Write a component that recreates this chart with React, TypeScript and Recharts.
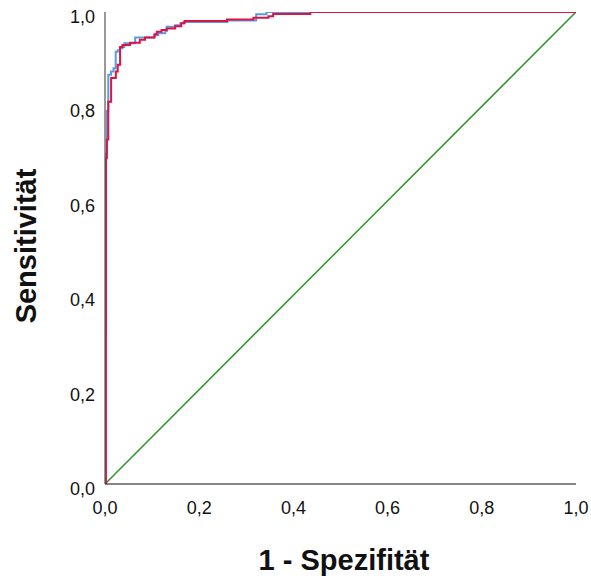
import { CartesianGrid, Line, LineChart, XAxis, YAxis } from "recharts";

// ROC curves (1 - specificity, sensitivity)
const rocBlue = [
  { x: 0, y: 0 },
  { x: 0, y: 0.32 },
  { x: 0.002, y: 0.7 },
  { x: 0.004, y: 0.79 },
  { x: 0.007, y: 0.867 },
  { x: 0.0128, y: 0.874 },
  { x: 0.018, y: 0.881 },
  { x: 0.0227, y: 0.916 },
  { x: 0.027, y: 0.919 },
  { x: 0.032, y: 0.923 },
  { x: 0.037, y: 0.926 },
  { x: 0.041, y: 0.934 },
  { x: 0.064, y: 0.946 },
  { x: 0.105, y: 0.951 },
  { x: 0.113, y: 0.955 },
  { x: 0.128, y: 0.96 },
  { x: 0.131, y: 0.969 },
  { x: 0.149, y: 0.972 },
  { x: 0.16, y: 0.976 },
  { x: 0.167, y: 0.979 },
  { x: 0.26, y: 0.982 },
  { x: 0.321, y: 0.995 },
  { x: 0.343, y: 1 },
  { x: 1, y: 1 },
];

const rocRed = [
  { x: 0, y: 0 },
  { x: 0.002, y: 0.69 },
  { x: 0.004, y: 0.73 },
  { x: 0.007, y: 0.81 },
  { x: 0.013, y: 0.86 },
  { x: 0.023, y: 0.874 },
  { x: 0.027, y: 0.888 },
  { x: 0.032, y: 0.926 },
  { x: 0.037, y: 0.93 },
  { x: 0.053, y: 0.935 },
  { x: 0.074, y: 0.941 },
  { x: 0.085, y: 0.946 },
  { x: 0.105, y: 0.953 },
  { x: 0.11, y: 0.958 },
  { x: 0.12, y: 0.962 },
  { x: 0.131, y: 0.965 },
  { x: 0.149, y: 0.97 },
  { x: 0.162, y: 0.976 },
  { x: 0.169, y: 0.981 },
  { x: 0.259, y: 0.984 },
  { x: 0.315, y: 0.988 },
  { x: 0.347, y: 0.991 },
  { x: 0.357, y: 0.996 },
  { x: 0.436, y: 1 },
  { x: 1, y: 1 },
];

// reference line
const diagonal = [
  { x: 0, y: 0 },
  { x: 1, y: 1 },
];

const ticks = [0, 0.2, 0.4, 0.6, 0.8, 1];

const W = 591;
const H = 581;
const FONT = "'Liberation Sans', Arial, sans-serif";

const fmt = (v: number) => v.toFixed(1).replace(".", ",");

function XTick({ x, y, payload }: any) {
  return (
    <text x={x} y={y + 30} textAnchor="middle" fontSize={18} fontFamily={FONT} fill="#111">
      {fmt(payload.value)}
    </text>
  );
}

function YTick({ x, y, payload }: any) {
  return (
    <text x={x - 10} y={y + 11} textAnchor="end" fontSize={18} fontFamily={FONT} fill="#111">
      {fmt(payload.value)}
    </text>
  );
}

export default function App() {
  return (
    <div style={{ position: "relative", width: W, height: H, background: "#fff" }}>
      <style>{"body{margin:0}"}</style>
      <LineChart width={W} height={H} margin={{ top: 12, right: 15, left: 0, bottom: 0 }}>
        <CartesianGrid stroke="none" />
        <XAxis
          type="number"
          dataKey="x"
          domain={[0, 1]}
          ticks={ticks}
          height={97}
          tickSize={0}
          tickMargin={0}
          tick={<XTick />}
          axisLine={{ stroke: "#111", strokeWidth: 1.2 }}
          allowDataOverflow
        />
        <YAxis
          type="number"
          dataKey="y"
          domain={[0, 1]}
          ticks={ticks}
          width={105}
          tickSize={0}
          tickMargin={0}
          tick={<YTick />}
          axisLine={{ stroke: "#555", strokeWidth: 1.2 }}
          allowDataOverflow
        />
        <Line
          data={diagonal}
          dataKey="y"
          type="linear"
          stroke="#2e942e"
          strokeWidth={1.5}
          dot={false}
          isAnimationActive={false}
        />
        <Line
          data={rocBlue}
          dataKey="y"
          type="stepAfter"
          stroke="#5b9be0"
          strokeWidth={2}
          dot={false}
          isAnimationActive={false}
        />
        <Line
          data={rocRed}
          dataKey="y"
          type="stepAfter"
          stroke="#dc1445"
          strokeWidth={2}
          dot={false}
          isAnimationActive={false}
        />
      </LineChart>
      <svg
        width={W}
        height={H}
        style={{ position: "absolute", left: 0, top: 0, pointerEvents: "none" }}
      >
        <text
          x={344}
          y={570}
          textAnchor="middle"
          fontSize={29}
          fontWeight="bold"
          fontFamily={FONT}
          fill="#111"
        >
          1 - Spezifität
        </text>
        <text
          transform="translate(36,246) rotate(-90)"
          textAnchor="middle"
          fontSize={29}
          fontWeight="bold"
          fontFamily={FONT}
          fill="#111"
        >
          Sensitivität
        </text>
      </svg>
    </div>
  );
}
